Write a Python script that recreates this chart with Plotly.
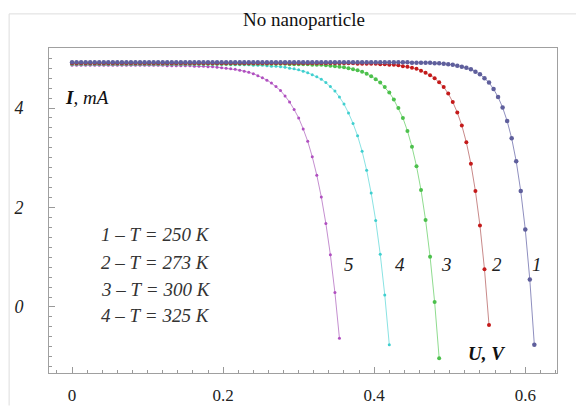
import plotly.graph_objects as go

# Voltage grid (V)
voltage = [0.000, 0.006, 0.012, 0.018, 0.024, 0.030, 0.036, 0.042, 0.048, 0.054,
           0.060, 0.066, 0.072, 0.078, 0.084, 0.090, 0.096, 0.102, 0.108, 0.114,
           0.120, 0.126, 0.132, 0.138, 0.144, 0.150, 0.156, 0.162, 0.168, 0.174,
           0.180, 0.186, 0.192, 0.198, 0.204, 0.210, 0.216, 0.222, 0.228, 0.234,
           0.240, 0.246, 0.252, 0.258, 0.264, 0.270, 0.276, 0.282, 0.288, 0.294,
           0.300, 0.306, 0.312, 0.318, 0.324, 0.330, 0.336, 0.342, 0.348, 0.354,
           0.360, 0.366, 0.372, 0.378, 0.384, 0.390, 0.396, 0.402, 0.408, 0.414,
           0.420, 0.426, 0.432, 0.438, 0.444, 0.450, 0.456, 0.462, 0.468, 0.474,
           0.480, 0.486, 0.492, 0.498, 0.504, 0.510, 0.516, 0.522, 0.528, 0.534,
           0.540, 0.546, 0.552, 0.558, 0.564, 0.570, 0.576, 0.582, 0.588, 0.594,
           0.600, 0.606, 0.612]

# Current (mA), curve 1 ... 5
current_1 = [4.92, 4.92, 4.92, 4.92, 4.92, 4.92, 4.92, 4.92, 4.92, 4.92,
             4.92, 4.92, 4.92, 4.92, 4.92, 4.92, 4.92, 4.92, 4.92, 4.92,
             4.92, 4.92, 4.92, 4.92, 4.92, 4.92, 4.92, 4.92, 4.92, 4.92,
             4.92, 4.92, 4.92, 4.92, 4.92, 4.92, 4.92, 4.92, 4.92, 4.92,
             4.92, 4.92, 4.92, 4.92, 4.92, 4.92, 4.92, 4.92, 4.92, 4.92,
             4.92, 4.92, 4.92, 4.92, 4.92, 4.92, 4.92, 4.92, 4.92, 4.92,
             4.92, 4.92, 4.92, 4.92, 4.92, 4.92, 4.92, 4.92, 4.92, 4.92,
             4.92, 4.92, 4.92, 4.92, 4.92, 4.91, 4.91, 4.91, 4.91, 4.91,
             4.90, 4.90, 4.89, 4.88, 4.87, 4.85, 4.83, 4.81, 4.78, 4.73,
             4.68, 4.60, 4.51, 4.38, 4.22, 4.01, 3.74, 3.39, 2.93, 2.33,
             1.56, 0.55, -0.76]
current_2 = [4.90, 4.90, 4.90, 4.90, 4.90, 4.90, 4.90, 4.90, 4.90, 4.90,
             4.90, 4.90, 4.90, 4.90, 4.90, 4.90, 4.90, 4.90, 4.90, 4.90,
             4.90, 4.90, 4.90, 4.90, 4.90, 4.90, 4.90, 4.90, 4.90, 4.90,
             4.90, 4.90, 4.90, 4.90, 4.90, 4.90, 4.90, 4.90, 4.90, 4.90,
             4.90, 4.90, 4.90, 4.90, 4.90, 4.90, 4.90, 4.90, 4.90, 4.90,
             4.90, 4.90, 4.90, 4.90, 4.90, 4.90, 4.90, 4.90, 4.90, 4.90,
             4.90, 4.90, 4.90, 4.89, 4.89, 4.89, 4.89, 4.89, 4.88, 4.88,
             4.87, 4.87, 4.86, 4.84, 4.83, 4.81, 4.79, 4.75, 4.71, 4.66,
             4.60, 4.52, 4.42, 4.29, 4.12, 3.91, 3.65, 3.31, 2.88, 2.33,
             1.64, 0.76, -0.36]
current_3 = [4.89, 4.89, 4.89, 4.89, 4.89, 4.89, 4.89, 4.89, 4.89, 4.89,
             4.89, 4.89, 4.89, 4.89, 4.89, 4.89, 4.89, 4.89, 4.89, 4.89,
             4.89, 4.89, 4.89, 4.89, 4.89, 4.89, 4.89, 4.89, 4.89, 4.89,
             4.89, 4.89, 4.89, 4.89, 4.89, 4.89, 4.89, 4.89, 4.89, 4.89,
             4.89, 4.89, 4.89, 4.89, 4.89, 4.89, 4.89, 4.89, 4.88, 4.88,
             4.88, 4.88, 4.88, 4.87, 4.87, 4.87, 4.86, 4.85, 4.84, 4.83,
             4.82, 4.80, 4.78, 4.76, 4.73, 4.69, 4.64, 4.58, 4.51, 4.42,
             4.31, 4.17, 4.00, 3.80, 3.54, 3.22, 2.83, 2.35, 1.75, 1.01,
             0.10, -1.03]
current_4 = [4.88, 4.88, 4.88, 4.88, 4.88, 4.88, 4.88, 4.88, 4.88, 4.88,
             4.88, 4.88, 4.88, 4.88, 4.88, 4.88, 4.88, 4.88, 4.88, 4.88,
             4.88, 4.88, 4.88, 4.88, 4.88, 4.88, 4.88, 4.88, 4.88, 4.88,
             4.88, 4.88, 4.88, 4.88, 4.88, 4.87, 4.87, 4.87, 4.87, 4.87,
             4.86, 4.86, 4.86, 4.85, 4.84, 4.84, 4.83, 4.82, 4.80, 4.79,
             4.77, 4.74, 4.71, 4.67, 4.63, 4.58, 4.51, 4.43, 4.34, 4.22,
             4.08, 3.90, 3.69, 3.44, 3.13, 2.75, 2.29, 1.74, 1.06, 0.24,
             -0.76]
current_5 = [4.86, 4.86, 4.86, 4.86, 4.86, 4.86, 4.86, 4.86, 4.86, 4.86,
             4.86, 4.86, 4.86, 4.86, 4.86, 4.86, 4.86, 4.86, 4.86, 4.86,
             4.86, 4.85, 4.85, 4.85, 4.85, 4.85, 4.85, 4.84, 4.84, 4.84,
             4.83, 4.83, 4.82, 4.81, 4.80, 4.79, 4.78, 4.76, 4.74, 4.72,
             4.69, 4.65, 4.61, 4.56, 4.50, 4.43, 4.35, 4.24, 4.12, 3.97,
             3.80, 3.58, 3.33, 3.02, 2.65, 2.21, 1.68, 1.05, 0.29, -0.63]

curve_labels = ["1", "2", "3", "4", "5"]
label_x = [0.616, 0.563, 0.496, 0.434, 0.366]
label_y = [0.85, 0.85, 0.85, 0.85, 0.85]
legend_lines = ["1 – T = 250 K", "2 – T = 273 K", "3 – T = 300 K", "4 – T = 325 K"]
legend_y = [1.45, 0.90, 0.36, -0.18]
x_ticks = [0, 0.2, 0.4, 0.6]
x_ticktext = ["0", "0.2", "0.4", "0.6"]
y_ticks = [0, 2, 4]
y_ticktext = ["<i>0</i>", "<i>2</i>", "<i>4</i>"]

series = [current_1, current_2, current_3, current_4, current_5]
line_colors = ["#8f8fbf", "#c98a8a", "#8fdc8f", "#8ae3e3", "#c58fd0"]
marker_colors = ["#5f5f9c", "#c41a1a", "#4cc04c", "#3fcfcf", "#b04fc0"]
marker_sizes = [4.5, 4, 4, 3, 3]

SERIF = "Liberation Serif"

fig = go.Figure()
for i in reversed(range(5)):
    cur = series[i]
    fig.add_trace(go.Scatter(
        x=voltage[:len(cur)], y=cur, mode="lines+markers",
        line=dict(color=line_colors[i], width=1),
        marker=dict(color=marker_colors[i], size=marker_sizes[i], line=dict(width=0)),
        showlegend=False, hoverinfo="skip"))

for t, x, y in zip(curve_labels, label_x, label_y):
    fig.add_annotation(x=x, y=y, text="<i>" + t + "</i>", showarrow=False,
                       font=dict(family=SERIF, size=19, color="#222"))

for t, y in zip(legend_lines, legend_y):
    fig.add_annotation(x=0.036, y=y, text="<i>" + t.replace(" ", "&nbsp;") + "</i>",
                       showarrow=False, xanchor="left",
                       font=dict(family=SERIF, size=19, color="#333"))

fig.add_annotation(x=-0.012, y=4.22, text="<b><i>I</i></b><i>, mA</i>", showarrow=False,
                   xanchor="left", font=dict(family=SERIF, size=19, color="#111"))
fig.add_annotation(x=0.522, y=-0.93, text="<b><i>U, V</i></b>", showarrow=False,
                   xanchor="left", font=dict(family=SERIF, size=19, color="#111"))

# title
fig.add_annotation(xref="paper", yref="paper", x=0.502, y=1.087, yanchor="middle",
                   text="No nanoparticle", showarrow=False,
                   font=dict(family=SERIF, size=19, color="#111"))

# outer light frame of the image
fig.add_shape(type="path", xref="paper", yref="paper",
              path="M -0.0785 -0.1 L -0.0785 1.105 L 1.05 1.105",
              line=dict(color="#dddddd", width=1))

fig.update_layout(
    width=576, height=406,
    margin=dict(l=49, r=19, t=48, b=33, autoexpand=False),
    paper_bgcolor="white", plot_bgcolor="white",
    font=dict(family=SERIF, size=17, color="#222"),
)
fig.update_xaxes(range=[-0.0305, 0.642], showgrid=False, zeroline=False, automargin=False,
                 showline=True, linecolor="#a0a0a0", linewidth=1, mirror=True,
                 tickmode="array", tickvals=x_ticks, ticktext=x_ticktext,
                 ticks="inside", ticklen=6, tickcolor="#999", tickwidth=1,
                 ticklabelstandoff=7,
                 tickfont=dict(family=SERIF, size=17, color="#222"),
                 minor=dict(dtick=0.02, ticks="inside", ticklen=3, tickcolor="#999", showgrid=False))
fig.update_yaxes(range=[-1.327, 5.206], showgrid=False, zeroline=False, automargin=False,
                 showline=True, linecolor="#a0a0a0", linewidth=1, mirror=True,
                 tickmode="array", tickvals=y_ticks, ticktext=y_ticktext,
                 ticks="inside", ticklen=6, tickcolor="#999", tickwidth=1,
                 ticklabelstandoff=21,
                 tickfont=dict(family=SERIF, size=18, color="#222"),
                 minor=dict(dtick=0.2, tick0=0, ticks="inside", ticklen=3, tickcolor="#999", showgrid=False))

fig.write_html("out.html", config={"displayModeBar": False},
               post_script="document.body.style.margin='0';")
